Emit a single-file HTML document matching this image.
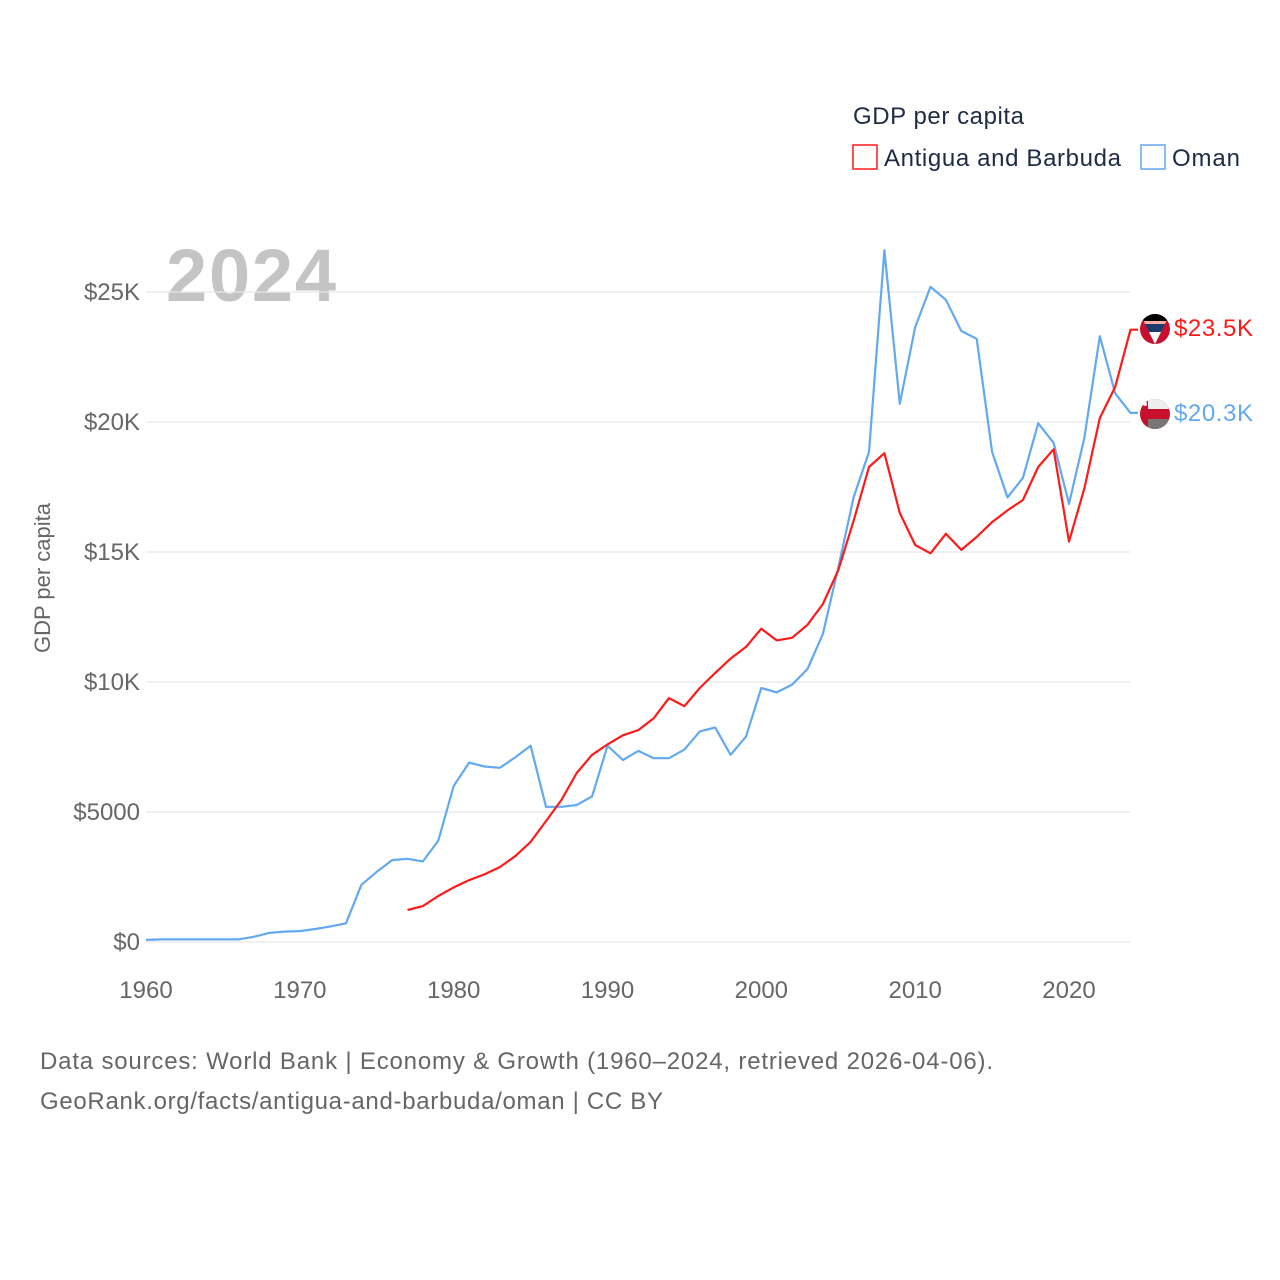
<!DOCTYPE html>
<html><head><meta charset="utf-8"><style>
body{margin:0;background:#fff;}
svg{display:block;font-family:"Liberation Sans",sans-serif;}
</style></head><body>
<svg id="chart" width="1280" height="1280" viewBox="0 0 1280 1280">
<defs>
<clipPath id="cA"><circle cx="1155" cy="329" r="15"/></clipPath>
<clipPath id="cO"><circle cx="1155" cy="414" r="15"/></clipPath>
</defs>
<text x="853" y="124" font-size="24" fill="#1d2b45" textLength="171">GDP per capita</text>
<g><rect x="853" y="145" width="24" height="24" fill="none" stroke="#ff1a1a" stroke-width="1.5"/><text x="884" y="166" font-size="24" fill="#1d2b45" textLength="237">Antigua and Barbuda</text></g>
<g><rect x="1141" y="145" width="24" height="24" fill="none" stroke="#63a9ef" stroke-width="1.5"/><text x="1172" y="166" font-size="24" fill="#1d2b45" textLength="68">Oman</text></g>
<text x="166" y="301" font-size="74" font-weight="bold" fill="#c4c4c4" textLength="170">2024</text>
<text transform="translate(50,578) rotate(-90)" text-anchor="middle" font-size="22" fill="#666">GDP per capita</text>
<g id="grid"></g><g id="yt"></g><g id="xt"></g><g id="lines"></g>
<g clip-path="url(#cA)">
<rect x="1140" y="314" width="30" height="30" fill="#c8102e"/>
<path d="M1140,314 L1170,314 L1155,344Z" fill="#000"/>
<path d="M1143.5,321 L1166.5,321 L1155,344Z" fill="#f7b0a0"/>
<path d="M1145,324 L1165,324 L1155,344Z" fill="#1d3a6e"/>
<path d="M1149,332 L1161,332 L1155,344Z" fill="#fff"/>
</g>
<g clip-path="url(#cO)">
<rect x="1140" y="399" width="30" height="30" fill="#c8102e"/>
<rect x="1148" y="399" width="22" height="10" fill="#eee"/>
<rect x="1148" y="419" width="22" height="10" fill="#777"/>
<circle cx="1145" cy="404" r="2" fill="#fff"/>
</g>
<text x="1174" y="336" font-size="24" fill="#ff1a1a" textLength="79">$23.5K</text>
<text x="1174" y="421" font-size="24" fill="#63a9ef" textLength="79">$20.3K</text>
<text x="40" y="1069" font-size="24" fill="#666" textLength="953">Data sources: World Bank | Economy &amp; Growth (1960–2024, retrieved 2026-04-06).</text>
<text x="40" y="1109" font-size="24" fill="#666" textLength="623">GeoRank.org/facts/antigua-and-barbuda/oman | CC BY</text>
</svg>
<script>
const years=[];for(let y=1960;y<=2024;y++)years.push(y);
const omanValues=[0.08,0.1,0.1,0.1,0.1,0.1,0.1,0.2,0.35,0.4,0.42,0.5,0.6,0.72,2.2,2.7,3.15,3.2,3.1,3.9,6.0,6.9,6.75,6.7,7.1,7.55,5.2,5.2,5.27,5.6,7.55,7.0,7.35,7.07,7.07,7.4,8.1,8.25,7.2,7.9,9.77,9.6,9.9,10.5,11.85,14.4,17.1,18.85,26.6,20.7,23.65,25.2,24.7,23.5,23.2,18.85,17.1,17.85,19.95,19.2,16.85,19.4,23.3,21.1,20.35];
const antiguaStart=1977;
const antiguaValues=[1.23,1.38,1.77,2.1,2.38,2.6,2.88,3.3,3.85,4.65,5.46,6.5,7.2,7.6,7.95,8.15,8.6,9.38,9.07,9.77,10.35,10.9,11.35,12.05,11.6,11.7,12.2,13.0,14.3,16.2,18.27,18.8,16.5,15.27,14.95,15.7,15.08,15.58,16.15,16.6,17.0,18.27,18.95,15.4,17.45,20.15,21.35,23.55];
const yTicks=[0,5,10,15,20,25];
const yTickLabels=["$0","$5000","$10K","$15K","$20K","$25K"];
const xTicks=[1960,1970,1980,1990,2000,2010,2020];
const NS="http://www.w3.org/2000/svg";
const xs=y=>146+(y-1960)*(1069-146)/60;
const ys=v=>942-v*26;
function mk(tag,attrs,parent,txt){const e=document.createElementNS(NS,tag);for(const k in attrs)e.setAttribute(k,attrs[k]);if(txt!=null)e.textContent=txt;document.getElementById(parent).appendChild(e);return e;}
yTicks.forEach((t,i)=>{
 const l=mk('line',{x1:146,x2:1130,y1:ys(t),y2:ys(t),stroke:'#e6e6e6','stroke-width':1.3},'grid');
 
 
 const tx=mk('text',{x:140,y:ys(t)+8,'text-anchor':'end','font-size':24,fill:'#666'},'yt',yTickLabels[i]);
 
 
});
xTicks.forEach(t=>{
 const tx=mk('text',{x:xs(t),y:998,'text-anchor':'middle','font-size':24,fill:'#666'},'xt',t);
 
 
});
function path(pts){return pts.map((p,i)=>(i?'L':'M')+p[0].toFixed(1)+','+p[1].toFixed(1)).join(' ');}
const op=omanValues.map((v,i)=>[xs(years[i]),ys(v)]);
op.push([1138,op[op.length-1][1]]);
const o=mk('path',{d:path(op),fill:'none',stroke:'#63a9ef','stroke-width':2.2,'stroke-linejoin':'round'},'lines');


const ap=antiguaValues.map((v,i)=>[xs(antiguaStart+i),ys(v)]);
ap.push([1138,ap[ap.length-1][1]]);
const a=mk('path',{d:path(ap),fill:'none',stroke:'#ff1a1a','stroke-width':2.2,'stroke-linejoin':'round'},'lines');


</script>
</body></html>
